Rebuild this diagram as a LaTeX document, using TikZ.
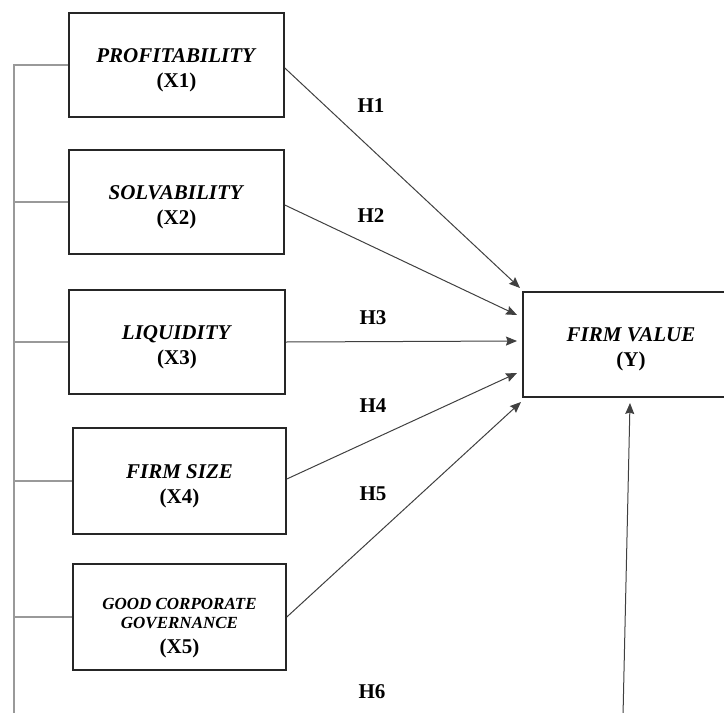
\documentclass[tikz,border=0pt]{standalone}
\usepackage{fontspec}
\setmainfont{Liberation Serif}
\usetikzlibrary{arrows.meta,calc}
\newcommand{\topstrut}[1]{\rule{0pt}{#1}}
\tikzset{
  varbox/.style={draw=black!85, line width=1.6pt, fill=white, align=center, inner sep=0pt,
    font=\fontsize{21}{25}\selectfont\bfseries},
  link/.style={draw=black!75, line width=1pt, -{Stealth[length=11pt,width=9pt,inset=1.5pt]}},
  bus/.style={draw=black!40, line width=1.5pt},
  hlabel/.style={anchor=base, font=\fontsize{21}{24}\selectfont\bfseries, inner sep=0pt}
}
\begin{document}
\begin{tikzpicture}[x=1pt,y=-1pt]
\useasboundingbox (0,0) rectangle (724,713);
\clip (0,0) rectangle (724,713);
% variable boxes
\node[varbox, minimum width=215pt, minimum height=104pt] (x1) at (176.5,65)
  {\topstrut{24pt}\textit{PROFITABILITY}\\(X1)};
\node[varbox, minimum width=215pt, minimum height=104pt] (x2) at (176.5,202)
  {\topstrut{24pt}\textit{SOLVABILITY}\\(X2)};
\node[varbox, minimum width=216pt, minimum height=104pt] (x3) at (177,342)
  {\topstrut{24pt}\textit{LIQUIDITY}\\(X3)};
\node[varbox, minimum width=213pt, minimum height=106pt] (x4) at (179.5,481)
  {\topstrut{24pt}\textit{FIRM SIZE}\\(X4)};
\node[varbox, minimum width=213pt, minimum height=106pt] (x5) at (179.5,617)
  {\fontsize{17}{19}\selectfont\itshape\topstrut{34pt}GOOD CORPORATE\\[-6pt]\fontsize{17}{19}\selectfont\itshape GOVERNANCE\\(X5)};
\node[varbox, minimum width=216pt, minimum height=105pt] (y) at (631,344.5)
  {\topstrut{24pt}\textit{FIRM VALUE}\\(Y)};
% arrow targets
\coordinate (t1) at (520,288);
\coordinate (t2) at (517,315);
\coordinate (t3) at (517,341);
\coordinate (t4) at (517,373);
\coordinate (t5) at (521,402);
\coordinate (t6) at (630,403);
\coordinate (b6) at (623,716);
% arrows
\draw[link] ($(x1.east)+(0,3)$) -- (t1);
\draw[link] ($(x2.east)+(0,3)$) -- (t2);
\draw[link] (x3.east) -- (t3);
\draw[link] ($(x4.east)+(0,-2)$) -- (t4);
\draw[link] (x5.east) -- (t5);
\draw[link] (b6) -- (t6);
% left bus
\coordinate (bus) at (14,0);
\coordinate (busend) at (14,716);
\draw[bus] (x1.west) -- (x1.west -| bus) -- (busend);
\draw[bus] (x2.west) -- (x2.west -| bus);
\draw[bus] (x3.west) -- (x3.west -| bus);
\draw[bus] (x4.west) -- (x4.west -| bus);
\draw[bus] (x5.west) -- (x5.west -| bus);
% labels
\node[hlabel] (h1) at (371,112) {H1};
\node[hlabel] (h2) at (371,222) {H2};
\node[hlabel] (h3) at (373,324) {H3};
\node[hlabel] (h4) at (373,412) {H4};
\node[hlabel] (h5) at (373,500) {H5};
\node[hlabel] (h6) at (372,698) {H6};
\end{tikzpicture}
\end{document}
